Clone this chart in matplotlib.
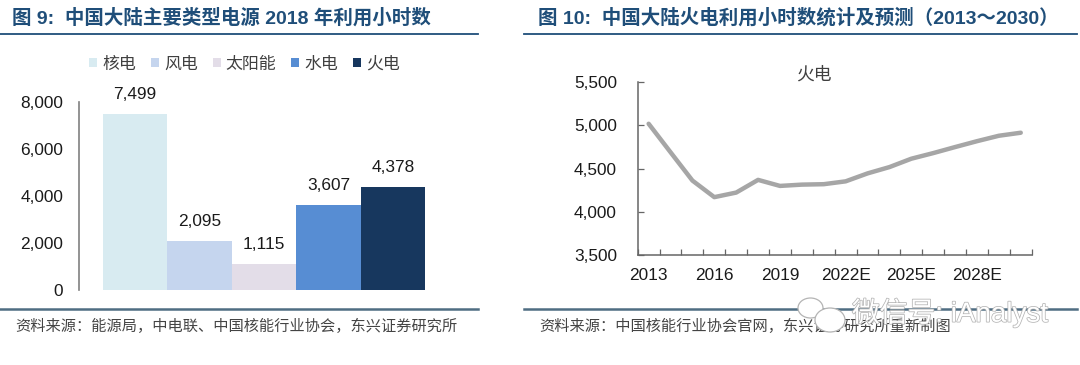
# -*- coding: utf-8 -*-

import matplotlib
matplotlib.use('Agg')
import matplotlib.pyplot as plt
import matplotlib.patheffects as pe
from matplotlib.patches import Ellipse
from matplotlib.ticker import FuncFormatter

plt.rcParams['font.family'] = ['Liberation Sans', 'Noto Sans CJK SC', 'DejaVu Sans']

W, H = 1080., 365.

# Figure 9
sources = ['核电', '风电', '太阳能', '水电', '火电']
hours = [7499, 2095, 1115, 3607, 4378]
bar_colors = ['#d8ebf1', '#c5d5ee', '#e3dde8', '#578dd3', '#17375e']
bar_ticks = [0, 2000, 4000, 6000, 8000]

# Figure 10
years = ['2013', '2014', '2015', '2016', '2017', '2018', '2019', '2020', '2021',
         '2022E', '2023E', '2024E', '2025E', '2026E', '2027E', '2028E', '2029E', '2030E']
coal_hours = [5020, 4690, 4362, 4170, 4223, 4370, 4300, 4315, 4320,
              4353, 4445, 4518, 4615, 4680, 4750, 4818, 4881, 4916]
line_ticks = [3500, 4000, 4500, 5000, 5500]

title_left = '图 9:  中国大陆主要类型电源 2018 年利用小时数'
title_right = '图 10:  中国大陆火电利用小时数统计及预测（2013～2030）'
source_left = '资料来源：能源局，中电联、中国核能行业协会，东兴证券研究所'
source_right = '资料来源：中国核能行业协会官网，东兴证券研究所重新制图'

TITLE_COLOR = '#1f4e79'
RULE_COLOR = '#4f6d82'
AXIS_COLOR = '#808080'
AXIS2_COLOR = '#666666'
TEXT_COLOR = '#1a1a1a'
MARK_EDGE = '#b4b4b4'


def axes_px(fig, left, top, right, bottom):
    # ピクセル座標で軸を置く
    return fig.add_axes([left/W, 1 - bottom/H, (right-left)/W, (bottom-top)/H])


def fx(x):
    return x/W


def fy(y):
    return 1 - y/H


fig = plt.figure(figsize=(W/100, H/100), dpi=100, facecolor='white')

# frame of the two panels
for x0, x1, title, src, tx, sx in [(0, 478, title_left, source_left, 12, 15),
                                   (524, 1077, title_right, source_right, 538, 539)]:
    fig.add_artist(plt.Line2D([fx(x0), fx(x1)], [fy(34), fy(34)], color=TITLE_COLOR, lw=1.3))
    fig.add_artist(plt.Line2D([fx(x0), fx(x1)], [fy(309), fy(309)], color=RULE_COLOR, lw=1.8))
    fig.text(fx(tx), fy(17.5), title, color=TITLE_COLOR, fontsize=14, fontweight='bold',
             va='center', ha='left')
    fig.text(fx(sx), fy(326), src, color='#444444', fontsize=10.95, va='center', ha='left')

# left: bars
ax = axes_px(fig, 79, 102, 449, 290)
pos = list(range(len(hours)))
bars = ax.bar(pos, hours, width=1.0, color=bar_colors)
for p, v in zip(pos, hours):
    ax.annotate(format(v, ','), (p, v), xytext=(0, 14), textcoords='offset points',
                ha='center', va='center', fontsize=12.4, color=TEXT_COLOR)
ax.set_xlim(-0.873, 4.873)
ax.set_ylim(0, 8000)
ax.set_yticks(bar_ticks)
ax.yaxis.set_major_formatter(FuncFormatter(lambda v, _: format(int(v), ',')))
ax.tick_params(axis='y', length=0, labelsize=12.4, labelcolor=TEXT_COLOR, pad=11.5)
ax.set_xticks([])
for s in ['top', 'right', 'bottom']:
    ax.spines[s].set_visible(False)
ax.spines['left'].set_color(AXIS_COLOR)
ax.spines['left'].set_linewidth(1.2)
fig.legend(bars, sources, loc='center', bbox_to_anchor=(fx(244.5), fy(64)), ncol=5, frameon=False,
           fontsize=12.2, handlelength=0.47, handleheight=0.47, handletextpad=0.3,
           columnspacing=0.88, labelcolor='#404040')

# right: line
ax2 = axes_px(fig, 637.7, 82.3, 1031.7, 255)
xs = [i + 0.5 for i in range(len(years))]
ax2.plot(xs, coal_hours, color='#a6a6a6', lw=3.2, solid_capstyle='round')
ax2.set_xlim(0, len(years))
ax2.set_ylim(3500, 5500)
ax2.set_yticks(line_ticks)
ax2.yaxis.set_major_formatter(FuncFormatter(lambda v, _: format(int(v), ',')))
ax2.set_xticks(xs[::3])
ax2.set_xticklabels(years[::3])
ax2.set_xticks(range(len(years) + 1), minor=True)
ax2.tick_params(axis='x', which='major', length=0, labelsize=12.4, labelcolor=TEXT_COLOR, pad=9.7)
ax2.tick_params(axis='x', which='minor', direction='in', length=4.3, width=0.9, color=AXIS2_COLOR)
ax2.tick_params(axis='y', direction='in', length=4.3, width=0.9, color=AXIS2_COLOR,
                labelsize=12.4, labelcolor=TEXT_COLOR, pad=15)
for s in ['top', 'right']:
    ax2.spines[s].set_visible(False)
for s in ['left', 'bottom']:
    ax2.spines[s].set_color(AXIS2_COLOR)
    ax2.spines[s].set_linewidth(1.1)
fig.text(fx(814), fy(75), '火电', fontsize=12.8, color='#404040', ha='center', va='center')

# watermark
for cx, cy, w, h in [(810.5, 308, 25, 20), (830, 320, 30, 24)]:
    fig.add_artist(Ellipse((fx(cx), fy(cy)), w/W, h/H, transform=fig.transFigure, facecolor='white',
                           edgecolor=MARK_EDGE, lw=0.9, zorder=5))
fig.text(fx(852), fy(313), '微信号: iAnalyst', fontsize=20, color='white', ha='left', va='center', zorder=6,
         path_effects=[pe.withStroke(linewidth=1.1, foreground=MARK_EDGE)])

fig.savefig('out.png', dpi=100)
